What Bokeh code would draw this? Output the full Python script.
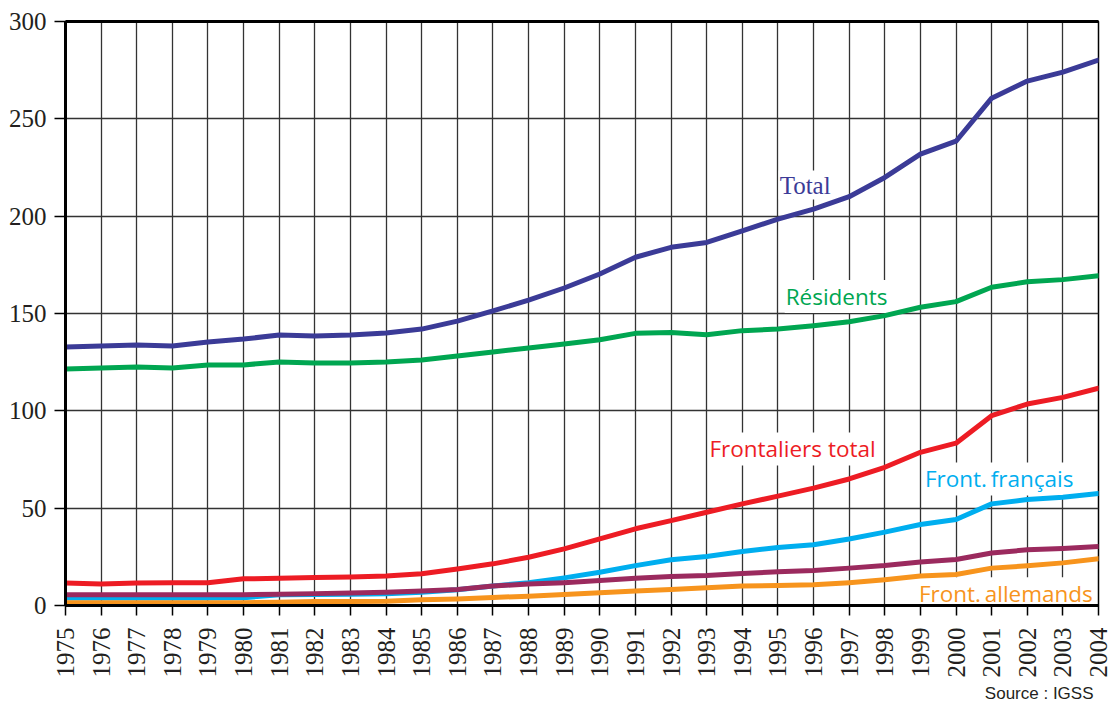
import math
from bokeh.plotting import figure
from bokeh.models import FixedTicker, Label, LinearAxis, Range1d
from bokeh.embed import file_html
from bokeh.resources import INLINE

years = [1975, 1976, 1977, 1978, 1979, 1980, 1981, 1982, 1983, 1984,
         1985, 1986, 1987, 1988, 1989, 1990, 1991, 1992, 1993, 1994,
         1995, 1996, 1997, 1998, 1999, 2000, 2001, 2002, 2003, 2004]

total = [132.8, 133.3, 133.8, 133.3, 135.4, 136.9, 138.9, 138.4, 138.9, 140.0,
         142.0, 146.1, 151.3, 156.9, 163.1, 170.3, 178.9, 184.0, 186.5, 192.5,
         198.5, 203.6, 210.0, 219.9, 231.9, 238.5, 260.6, 269.4, 274.0, 280.2]

residents = [121.5, 122.0, 122.5, 122.0, 123.6, 123.6, 125.1, 124.6, 124.6, 125.1,
             126.1, 128.2, 130.2, 132.3, 134.3, 136.5, 139.8, 140.3, 139.1, 141.2,
             142.0, 143.7, 145.8, 148.9, 153.2, 156.1, 163.5, 166.3, 167.4, 169.4]

frontaliers = [11.5, 11.1, 11.5, 11.7, 11.7, 13.7, 14.0, 14.4, 14.6, 15.1,
               16.3, 18.8, 21.4, 24.8, 29.1, 34.2, 39.4, 43.6, 47.9, 52.2,
               56.2, 60.3, 65.0, 71.0, 78.7, 83.4, 97.5, 103.5, 106.9, 111.6]

fr_francais = [3.8, 3.8, 3.8, 3.8, 3.8, 4.0, 5.5, 5.6, 5.8, 6.0,
               6.8, 8.1, 10.0, 11.7, 14.2, 17.1, 20.5, 23.5, 25.2, 27.7,
               29.8, 31.2, 34.2, 37.7, 41.6, 44.2, 52.2, 54.4, 55.6, 57.5]

fr_belges = [5.5, 5.5, 5.5, 5.5, 5.5, 5.5, 5.8, 6.1, 6.4, 6.8,
             7.4, 8.2, 10.0, 11.0, 11.7, 12.8, 14.0, 14.9, 15.4, 16.4,
             17.3, 18.0, 19.2, 20.5, 22.3, 23.6, 27.0, 28.6, 29.3, 30.3]

fr_allemands = [1.4, 1.4, 1.4, 1.4, 1.4, 1.4, 1.7, 2.0, 2.0, 2.2,
                2.9, 3.4, 4.1, 4.8, 5.7, 6.5, 7.5, 8.2, 9.1, 10.0,
                10.3, 10.6, 11.7, 13.2, 15.1, 15.9, 19.2, 20.4, 21.9, 24.0]

y_ticks = [0, 50, 100, 150, 200, 250, 300]

p = figure(frame_width=1033, frame_height=584,
           x_range=Range1d(1975, 2004), y_range=Range1d(0, 300),
           output_backend="svg", toolbar_location=None,
           min_border_left=65, min_border_top=21, min_border_right=14,
           min_border_bottom=90, background_fill_color="white",
           border_fill_color="white")

TXT = "#231F20"
SERIF = "'Liberation Serif'"

# axes
p.xaxis.ticker = FixedTicker(ticks=years)
p.yaxis.ticker = FixedTicker(ticks=y_ticks)
p.xaxis.major_label_orientation = math.pi / 2
for ax in (p.xaxis[0], p.yaxis[0]):
    ax.axis_line_width = 3
    ax.axis_line_color = "black"
    ax.major_tick_line_color = "black"
    ax.major_tick_line_width = 1.5
    ax.major_tick_in = 0
    ax.minor_tick_line_color = None
    ax.major_label_text_font = SERIF
    ax.major_label_text_font_size = "25px"
    ax.major_label_text_color = TXT
p.xaxis.major_tick_out = 10
p.xaxis.major_label_standoff = 12
p.yaxis.major_tick_out = 11
p.yaxis.major_label_standoff = 8

top_axis = LinearAxis(ticker=FixedTicker(ticks=[]), axis_line_width=3,
                      axis_line_color="black", major_tick_line_color=None,
                      minor_tick_line_color=None,
                      major_label_text_font_size="0px")
p.add_layout(top_axis, "above")

p.grid.grid_line_color = "#333333"
p.grid.grid_line_width = 1.3
p.outline_line_color = "black"
p.outline_line_width = 1.5

# labels (under the lines, over the grid)
labels = [
    ("Total", 1995.02, 216.0, "#3B3B97", SERIF, "25px"),
    ("Résidents", 1995.19, 158.7, "#00A651", "Open Sans", "22.5px"),
    ("Frontaliers total", 1993.05, 80.4, "#ED1C24", "Open Sans", "22.5px"),
    ("Front.\u2009français", 1999.1, 65.0, "#00AEEF", "Open Sans", "22.5px"),
    ("Front.\u2009allemands", 1998.93, 6.0, "#F7941D", "Open Sans", "22.5px"),
]
for txt, x, y, col, font, size in labels:
    p.add_layout(Label(x=x, y=y, text=txt, text_color=col, text_font=font,
                       text_font_size=size, text_baseline="alphabetic",
                       text_align="left", background_fill_color="white",
                       padding=1, level="underlay"))

# lines
series = [
    (fr_francais, "#00AEEF"),
    (fr_belges, "#9B2A5E"),
    (fr_allemands, "#F7941D"),
    (frontaliers, "#ED1C24"),
    (residents, "#00A651"),
    (total, "#3B3B97"),
]
for vals, col in series:
    p.line(years, vals, line_width=5, line_color=col, line_join="round",
           line_cap="round")

p.title.text = "Source : IGSS"
p.title_location = "below"
p.title.align = "right"
p.title.offset = 5
p.title.standoff = 2
p.title.text_font = "Liberation Sans"
p.title.text_font_size = "17px"
p.title.text_font_style = "normal"
p.title.text_color = TXT

open("out.html", "w").write(file_html(p, INLINE))
